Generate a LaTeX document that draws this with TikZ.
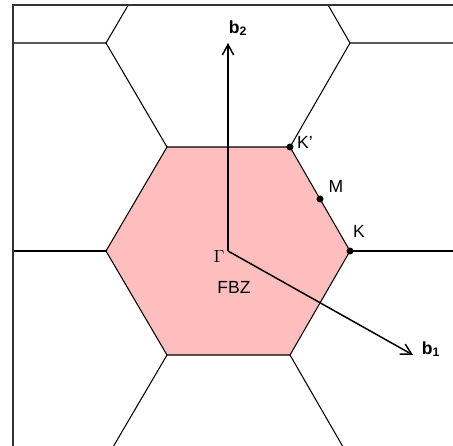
\documentclass[tikz,border=0pt]{standalone}
\usepackage{fontspec}
\setmainfont{Liberation Sans}
\usetikzlibrary{arrows.meta}
\definecolor{fbzpink}{RGB}{255,190,190}
\begin{document}
\begin{tikzpicture}[x=0.02cm,y=-0.02cm,
  cell/.style={line width=0.6pt,black},
  vec/.style={line width=0.85pt,-{Straight Barb[length=6pt,width=6.5pt,line width=0.85pt]}},
  pt/.style={circle,fill=black,inner sep=0pt,minimum size=4pt},
  lbl/.style={font=\fontsize{10}{11}\selectfont,inner sep=0pt},
  frame/.style={line width=0.9pt,black!80}]
\useasboundingbox (0,0) rectangle (453,446);
% coordinates
\coordinate (G) at (228,251);
\coordinate (L) at (106,251);
\coordinate (TL) at (167,147);
\coordinate (TR) at (290,147);
\coordinate (R) at (350,251);
\coordinate (BR) at (290,355);
\coordinate (BL) at (167,355);
\coordinate (UL) at (106,43);
\coordinate (UR) at (350,43);
\begin{scope}
\clip (13,5) rectangle (453,446);
\fill[fbzpink] (L) -- (TL) -- (TR) -- (R) -- (BR) -- (BL) -- cycle;
\draw[cell] (L) -- (TL) -- (TR) -- (R) -- (BR) -- (BL) -- cycle;
\draw[cell] (L) -- (0,251);
\draw[cell] (R) -- (460,251);
\draw[cell] (TL) -- (UL) -- (0,43);
\draw[cell] (UL) -- (167,-61);
\draw[cell] (TR) -- (UR) -- (460,43);
\draw[cell] (UR) -- (290,-61);
\draw[cell] (BL) -- (106,459);
\draw[cell] (BR) -- (350,459);
\end{scope}
\draw[frame] (13,446) -- (13,5) -- (453,5);
% vectors
\coordinate (b2) at (228,43);
\coordinate (b1) at (413,355);
\draw[vec] (G) -- (b2);
\draw[vec] (G) -- (b1);
\node[lbl,font=\fontsize{10}{11}\selectfont\bfseries] (lb2) at (238,28) {b\textsubscript{2}};
\node[lbl,font=\fontsize{10}{11}\selectfont\bfseries] (lb1) at (431,349) {b\textsubscript{1}};
% points
\node[pt] (Kp) at (TR) {};
\node[pt] (M) at (320,199) {};
\node[pt] (K) at (R) {};
\node[lbl] (lKp) at (305,142) {K’};
\node[lbl] (lM) at (336,186) {M};
\node[lbl] (lK) at (359,231) {K};
\node[lbl,font=\fontfamily{lmr}\fontsize{10}{11}\selectfont] (lG) at (219,256) {\(\Gamma\)};
\node[lbl] (fbz) at (234,287) {FBZ};
\end{tikzpicture}
\end{document}
